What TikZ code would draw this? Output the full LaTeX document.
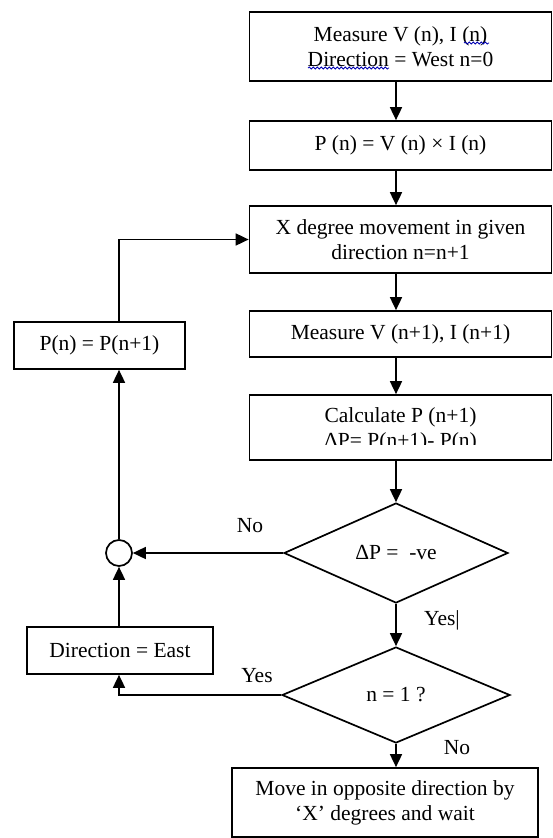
\documentclass[tikz,border=0pt]{standalone}
\usepackage{fontspec}
\setmainfont{Liberation Serif}
\usetikzlibrary{shapes.geometric,arrows.meta,decorations.pathmorphing}

\tikzset{
  box/.style={draw,line width=1.7pt,align=center,inner sep=0pt,minimum width=302},
  dec/.style={draw,diamond,line width=1.7pt,inner sep=0pt},
  arr/.style={line width=1.7pt,-{Triangle[length=13pt,width=12pt]}},
  spell/.style={blue!70!black,line width=0.8pt,decorate,decoration={snake,amplitude=1pt,segment length=4pt}}
}

\begin{document}
\begin{tikzpicture}[x=1pt,y=-1pt,font=\fontsize{21.5}{25}\selectfont]
	\useasboundingbox (0,0) rectangle (553,838);
	\node[box,minimum height=69] (meas) at (400.5,46.5) {Measure V (n), I (n)\\Direction = West n=0};
	\node[box,minimum height=49] (pow) at (400.5,145.5) {P (n) = V (n) × I (n)};
	\node[box,minimum height=67] (move) at (400.5,239.5) {X degree movement in given\\direction n=n+1};
	\node[box,minimum height=46] (meas2) at (400.5,334) {Measure V (n+1), I (n+1)};
	\node[box,minimum height=65] (calc) at (400.5,427.5) {};
	\begin{scope}
		\clip (calc.north west) rectangle (calc.east |- 0,444);
		\node[align=center] (calctxt) at (400.5,430) {Calculate P (n+1)\\ΔP= P(n+1)- P(n)};
	\end{scope}
	\node[dec,minimum width=224,minimum height=100] (dp) at (396,553) {ΔP =\ \ -ve};
	\node[dec,minimum width=228,minimum height=96] (one) at (396,695) {n = 1 ?};
	\node[box,minimum width=306,minimum height=69] (opp) at (385,802.5) {Move in opposite direction by\\‘X’ degrees and wait};
	\node[box,minimum width=171,minimum height=47] (upd) at (99.5,345.5) {P(n) = P(n+1)};
	\node[box,minimum width=186,minimum height=47] (east) at (120,650.5) {Direction = East};
	\node[draw,circle,line width=1.7pt,minimum size=26,inner sep=0pt] (join) at (119,553) {};

	\draw[arr] (meas.south -| dp) -- (pow.north -| dp);
	\draw[arr] (pow.south -| dp) -- (move.north -| dp);
	\draw[arr] (move.south -| dp) -- (meas2.north -| dp);
	\draw[arr] (meas2.south -| dp) -- (calc.north -| dp);
	\draw[arr] (calc.south -| dp) -- (dp.north);
	\draw[arr] (dp.south) -- (one.north);
	\draw[arr] (one.south) -- (one.south |- opp.north);
	\draw[arr] (dp.west) -- (join.east);
	\draw[arr] (east.north -| join) -- (join.south);
	\draw[arr] (one.west) -| (east.south -| join);
	\draw[arr] (join.north) -- (join.north |- upd.south);
	\draw[arr] (join |- upd.north) |- (move.west);

	\node at (250,526) {No};
	\node at (442,620) {Yes|};
	\node at (257,676) {Yes};
	\node at (457,748) {No};

	\draw[spell] (464,43) -- (489,43);
	\draw[spell] (308,68) -- (389,68);
\end{tikzpicture}
\end{document}
